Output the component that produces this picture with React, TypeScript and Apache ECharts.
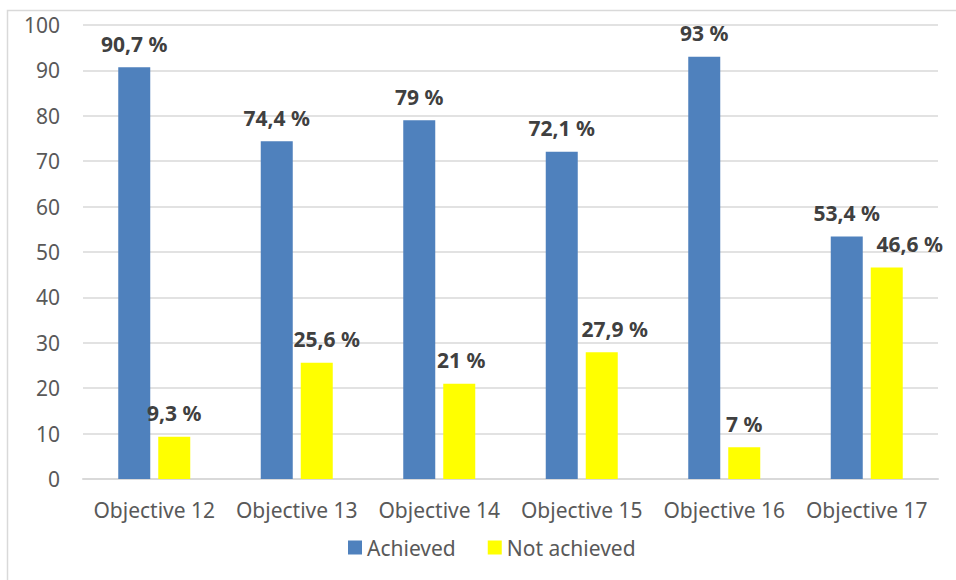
import React, { useEffect, useRef } from "react";
import * as echarts from "echarts";

const categories = ["Objective 12", "Objective 13", "Objective 14", "Objective 15", "Objective 16", "Objective 17"];
const achieved = [90.7, 74.4, 79, 72.1, 93, 53.4];
const notAchieved = [9.3, 25.6, 21, 27.9, 7, 46.6];
const seriesNames = ["Achieved", "Not achieved"];

// horizontal nudges of the "Not achieved" value labels (as placed in the original)
const notAchievedLabelShift = [0, 10, 2, 13, 0, 23];

const FONT = "'Noto Sans', 'Open Sans', sans-serif";

const fmt = (p: any) => String(p.value).replace(".", ",") + " %";

export default function App() {
  const ref = useRef<HTMLDivElement>(null);
  useEffect(() => {
    const chart = echarts.init(ref.current!, undefined, { renderer: "svg" });
    const label = {
      show: true,
      position: "top" as const,
      distance: 13,
      formatter: fmt,
      color: "#404040",
      fontWeight: "bold" as const,
      fontSize: 21,
      fontFamily: FONT,
    };
    chart.setOption({
      animation: false,
      graphic: [
        {
          type: "rect",
          shape: { x: 7.5, y: 10.5, width: 1000, height: 1000 },
          style: { fill: "none", stroke: "#d9d9d9", lineWidth: 1.5 },
          silent: true,
        },
      ],
      grid: { left: 83, right: 18, top: 25, bottom: 101, containLabel: false },
      legend: {
        data: seriesNames,
        left: 348,
        top: 537,
        padding: 0,
        itemWidth: 14,
        itemHeight: 14,
        itemGap: 32,
        icon: "rect",
        textStyle: { color: "#595959", fontSize: 21, fontFamily: FONT, padding: [0, 0, 0, 0] },
      },
      xAxis: {
        type: "category",
        data: categories,
        axisLine: { lineStyle: { color: "#d9d9d9", width: 2 } },
        axisTick: { show: false },
        axisLabel: { color: "#595959", fontSize: 21, fontFamily: FONT, margin: 20, interval: 0 },
      },
      yAxis: {
        type: "value",
        min: 0,
        max: 100,
        interval: 10,
        axisLine: { show: false },
        axisTick: { show: false },
        splitLine: { lineStyle: { color: "#d9d9d9", width: 1.5 } },
        axisLabel: { color: "#595959", fontSize: 21, fontFamily: FONT, margin: 23 },
      },
      series: [
        {
          name: seriesNames[0],
          type: "bar",
          data: achieved,
          barWidth: 32,
          barGap: "25%",
          itemStyle: { color: "#4f81bd" },
          label,
        },
        {
          name: seriesNames[1],
          type: "bar",
          data: notAchieved.map((v, i) => ({
            value: v,
            label: { offset: [notAchievedLabelShift[i], 0] },
          })),
          barWidth: 32,
          itemStyle: { color: "#ffff00" },
          label,
        },
      ],
    });
    return () => chart.dispose();
  }, []);
  return (
    <div
      ref={ref}
      style={{ position: "fixed", left: 0, top: 0, width: 956, height: 580, background: "#fff" }}
    />
  );
}
